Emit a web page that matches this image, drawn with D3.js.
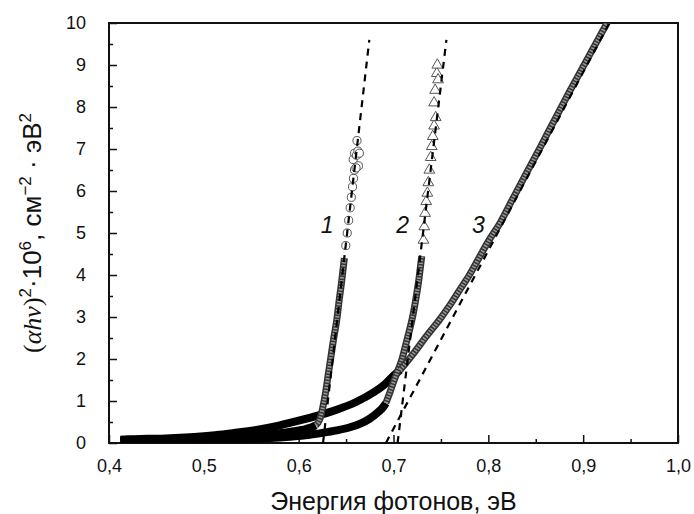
<!DOCTYPE html>
<html>
<head>
<meta charset="utf-8">
<script src="https://cdn.jsdelivr.net/npm/d3@7"></script>
<style>
  body { margin: 0; background: #fff; }
  svg text { font-family: "Liberation Sans", Arial, sans-serif; fill: #111; }
</style>
</head>
<body>
<div id="chart"></div>
<script>
// photon energy (eV) vs (alpha*h*nu)^2 * 1e6
const curve1 = [
  [0.412, 0.05], [0.42, 0.06], [0.44, 0.07], [0.46, 0.08], [0.48, 0.09], [0.50, 0.11],
  [0.52, 0.13], [0.54, 0.16], [0.56, 0.19], [0.58, 0.23], [0.595, 0.28], [0.605, 0.32],
  [0.612, 0.36], [0.618, 0.42], [0.622, 0.55], [0.625, 0.8], [0.628, 1.15], [0.631, 1.6],
  [0.634, 2.05], [0.637, 2.5], [0.640, 2.9], [0.643, 3.45],
  [0.6451, 3.8], [0.6466, 4.1], [0.6482, 4.4], [0.6497, 4.7], [0.6512, 5.0], [0.6527, 5.3],
  [0.6543, 5.6], [0.6555, 5.85], [0.6568, 6.1], [0.6578, 6.3], [0.6589, 6.5], [0.6575, 6.75],
  [0.659, 6.9], [0.661, 6.85], [0.6625, 6.95], [0.663, 6.6], [0.6605, 6.55], [0.664, 6.9],
  [0.6615, 7.2]
];
const curve2 = [
  [0.412, 0.03], [0.43, 0.04], [0.45, 0.05], [0.47, 0.05], [0.49, 0.06], [0.51, 0.07],
  [0.53, 0.08], [0.55, 0.1], [0.57, 0.12], [0.59, 0.15], [0.61, 0.19], [0.625, 0.24],
  [0.64, 0.3], [0.655, 0.38], [0.665, 0.46], [0.675, 0.58], [0.683, 0.72], [0.689, 0.85],
  [0.692, 0.95], [0.696, 1.19], [0.700, 1.45], [0.705, 1.75], [0.709, 2.0], [0.713, 2.35],
  [0.717, 2.7], [0.721, 3.1], [0.7246, 3.57],
  [0.7265, 3.85], [0.728, 4.12], [0.7298, 4.45], [0.7316, 4.83], [0.7325, 5.15], [0.7333, 5.47],
  [0.7345, 5.75], [0.7357, 5.95], [0.7367, 6.2], [0.7378, 6.5], [0.7392, 6.8], [0.7403, 7.06],
  [0.7414, 7.3], [0.7428, 7.55], [0.7445, 7.75], [0.7428, 8.1], [0.7439, 8.4], [0.7457, 8.8],
  [0.7470, 8.65], [0.7462, 9.0]
];
const curve3 = [
  [0.412, 0.08], [0.42, 0.09], [0.44, 0.1], [0.46, 0.11], [0.48, 0.13], [0.50, 0.16],
  [0.52, 0.2], [0.54, 0.26], [0.56, 0.33], [0.58, 0.42], [0.60, 0.53], [0.62, 0.65],
  [0.64, 0.79], [0.66, 0.97], [0.68, 1.22], [0.69, 1.38], [0.70, 1.6], [0.707, 1.74],
  [0.72, 2.1], [0.735, 2.55], [0.749, 2.95], [0.76, 3.3], [0.77, 3.65], [0.78, 4.0],
  [0.79, 4.4], [0.80, 4.8], [0.8124, 5.24], [0.825, 5.78], [0.84, 6.42], [0.855, 7.05],
  [0.87, 7.7], [0.885, 8.34], [0.90, 8.96], [0.915, 9.58], [0.93, 10.2]
];
// dashed extrapolation lines (start, end)
const tangent1 = [[0.6257, 0], [0.6745, 9.6]];
const tangent2 = [[0.7043, 0], [0.7558, 9.6]];
const tangent3 = [[0.692, 0], [0.93, 10.1]];
const curveLabels = [["1", 0.630, 5.0], ["2", 0.7096, 5.0], ["3", 0.7896, 5.0]];

const xTicks = [0.4, 0.5, 0.6, 0.7, 0.8, 0.9, 1.0];
const xMinor = [0.45, 0.55, 0.65, 0.75, 0.85, 0.95];
const yTicks = [0, 1, 2, 3, 4, 5, 6, 7, 8, 9, 10];
const yMinor = [0.5, 1.5, 2.5, 3.5, 4.5, 5.5, 6.5, 7.5, 8.5, 9.5];

const width = 694, height = 514;
const margin = { top: 23, right: 16, bottom: 71, left: 109 };

const svg = d3.select("#chart").append("svg")
  .attr("width", width)
  .attr("height", height);

const x = d3.scaleLinear().domain([0.4, 1.0]).range([margin.left, width - margin.right]);
const y = d3.scaleLinear().domain([0, 10]).range([height - margin.bottom, margin.top]);

svg.append("clipPath").attr("id", "plot")
  .append("rect")
  .attr("x", margin.left).attr("y", margin.top)
  .attr("width", x(1.0) - x(0.4)).attr("height", y(0) - y(10));

const fmt = (d) => d3.format(".1f")(d).replace(".", ",");

// axes, ticks pointing inwards
svg.append("g")
  .attr("transform", `translate(0,${y(0)})`)
  .call(d3.axisBottom(x).tickValues(xTicks).tickSize(-8).tickPadding(16).tickFormat(fmt));
svg.append("g")
  .attr("transform", `translate(0,${y(0)})`)
  .call(d3.axisBottom(x).tickValues(xMinor).tickSize(-4).tickFormat(""));
svg.append("g")
  .attr("transform", `translate(${x(0.4)},0)`)
  .call(d3.axisLeft(y).tickValues(yTicks).tickSize(-8).tickPadding(23).tickFormat(d3.format("d")));
svg.append("g")
  .attr("transform", `translate(${x(0.4)},0)`)
  .call(d3.axisLeft(y).tickValues(yMinor).tickSize(-4).tickFormat(""));

svg.selectAll(".tick line").attr("stroke", "#111").attr("stroke-width", 1.5);
svg.selectAll(".domain").remove();
svg.selectAll(".tick text").style("font-size", "18px").attr("fill", "#111");

// frame
svg.append("rect")
  .attr("x", x(0.4)).attr("y", y(10))
  .attr("width", x(1.0) - x(0.4)).attr("height", y(0) - y(10))
  .attr("fill", "none").attr("stroke", "#111").attr("stroke-width", 2);

const plot = svg.append("g").attr("clip-path", "url(#plot)");
const line = d3.line().x((d) => x(d[0])).y((d) => y(d[1])).curve(d3.curveMonotoneX);

const series = [
  { data: curve1, blackTo: 0.618, grayTo: 0.6483, symbol: d3.symbolCircle, size: 52 },
  { data: curve2, blackTo: 0.692, grayTo: 0.7299, symbol: d3.symbolTriangle, size: 50 },
  { data: curve3, blackTo: 0.707, grayTo: 1.0, symbol: d3.symbolSquare, size: 30 }
];

// dense low-energy parts: overlapping markers look like a solid black band
series.forEach((s) => {
  plot.append("path")
    .attr("d", line(s.data.filter((d) => d[0] <= s.blackTo)))
    .attr("fill", "none").attr("stroke", "#000").attr("stroke-width", 8);
});
// steep dense parts look grey
series.forEach((s) => {
  const pts = s.data.filter((d) => d[0] >= s.blackTo && d[0] <= s.grayTo);
  plot.append("path").attr("d", line(pts))
    .attr("fill", "none").attr("stroke", "#333").attr("stroke-width", 7);
  plot.append("path").attr("d", line(pts))
    .attr("fill", "none").attr("stroke", "#999").attr("stroke-width", 4)
    .attr("stroke-dasharray", "1.5,1.5");
});
// sparse points as open markers
series.forEach((s) => {
  plot.selectAll(null)
    .data(s.data.filter((d) => d[0] > s.grayTo))
    .join("path")
    .attr("d", d3.symbol().type(s.symbol).size(s.size))
    .attr("transform", (d) => `translate(${x(d[0])},${y(d[1])})`)
    .attr("fill", "#fff").attr("stroke", "#555").attr("stroke-width", 1);
});

// dashed lines
[tangent1, tangent2, tangent3].forEach((t) => {
  plot.append("path")
    .attr("d", d3.line().x((d) => x(d[0])).y((d) => y(d[1]))(t))
    .attr("fill", "none").attr("stroke", "#000").attr("stroke-width", 2.2)
    .attr("stroke-dasharray", "7,6");
});

svg.selectAll(".curve-label")
  .data(curveLabels)
  .join("text")
  .attr("class", "curve-label")
  .attr("x", (d) => x(d[1])).attr("y", (d) => y(d[2]))
  .attr("text-anchor", "middle")
  .style("font-size", "23px").style("font-style", "italic")
  .text((d) => d[0]);

// axis titles
svg.append("text")
  .attr("x", (x(0.4) + x(1.0)) / 2).attr("y", 510)
  .attr("text-anchor", "middle")
  .style("font-size", "25px")
  .text("Энергия фотонов, эВ");

const yTitle = svg.append("text")
  .attr("transform", `translate(41,${(y(0) + y(10)) / 2}) rotate(-90)`)
  .attr("text-anchor", "middle")
  .style("font-size", "26px");
const serif = "'Liberation Serif', 'Times New Roman', serif";
yTitle.append("tspan").style("font-family", serif).text("(");
yTitle.append("tspan").style("font-family", serif).style("font-style", "italic").text("αhν");
yTitle.append("tspan").style("font-family", serif).text(")");
function sup(t) {
  yTitle.append("tspan").attr("dy", -10).style("font-size", "17px").text(t);
}
function normal(t) {
  yTitle.append("tspan").attr("dy", 10).text(t);
}
sup("2");
normal("·10");
sup("6");
normal(", см");
sup("−2");
normal(" · эВ");
sup("2");
</script>
</body>
</html>
